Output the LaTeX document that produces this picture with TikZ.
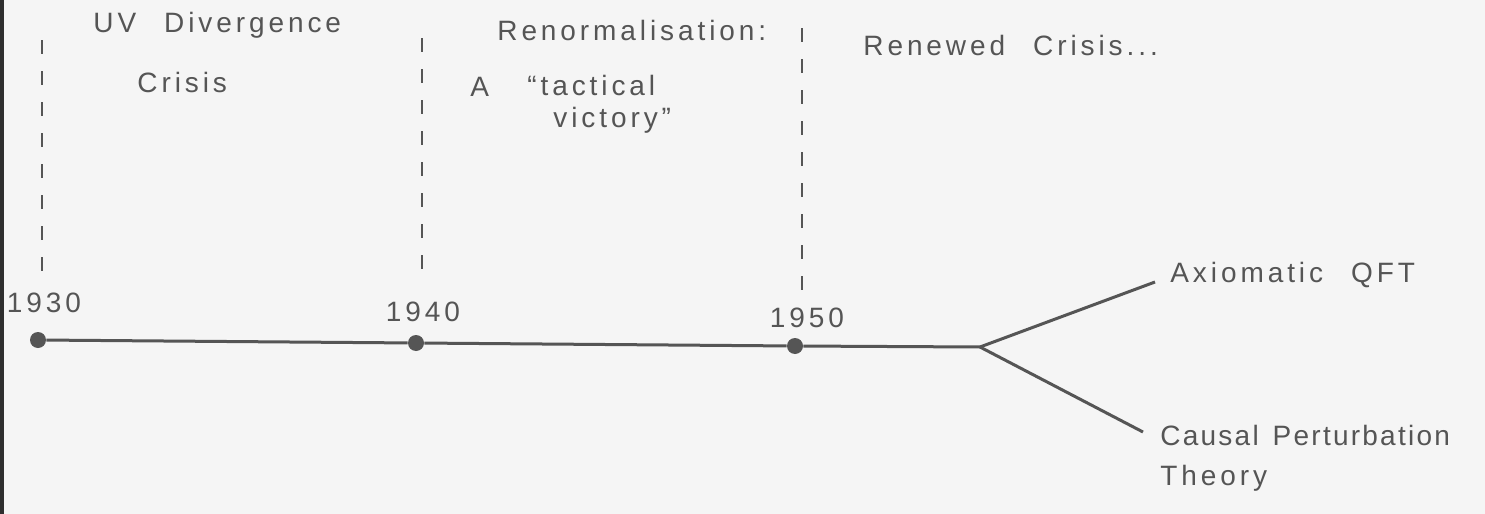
\documentclass[tikz,border=0pt]{standalone}
\usepackage{fontspec}
\setmainfont{Liberation Sans}[LetterSpace=14]
\usepackage{tikz}
\definecolor{InkGray}{HTML}{555555}
\definecolor{PaperGray}{HTML}{F5F5F5}
\definecolor{FrameDark}{HTML}{2E2E2E}

\tikzset{
  yeardot/.style={circle, fill=InkGray, inner sep=0pt, minimum size=8pt},
  yearlabel/.style={anchor=south, font=\fontsize{14}{16}\selectfont, text=InkGray},
  era/.style={anchor=west, font=\fontsize{14}{16}\selectfont, text=InkGray, inner sep=0pt},
  divider/.style={InkGray, line width=1.1pt, dash pattern=on 7pt off 8.5pt}
}

\begin{document}
\begin{tikzpicture}[x=0.5pt,y=-0.5pt]
  \useasboundingbox (0,0) rectangle (1485,514);
  \fill[PaperGray] (0,0) rectangle (1485,514);
  \fill[FrameDark] (0,0) rectangle (4,514);
  % the years
  \node[yeardot] (y1930) at (38,340) {};
  \node[yeardot] (y1940) at (416,343) {};
  \node[yeardot] (y1950) at (795,346) {};
  \coordinate (fork) at (980,347);
  \node[yearlabel] (l1930) at (44,320) {1930};
  \node[yearlabel] (l1940) at (423,329) {1940};
  \node[yearlabel] (l1950) at (807,335) {1950};
  % time line and its two branches
  \draw[InkGray, line width=1.5pt] (y1930) -- (y1940) -- (y1950) -- (fork);
  \node[era] (axiom) at (1170,275) {Axiomatic\quad QFT};
  \node[era] (causal) at (1160,435) {\addfontfeature{LetterSpace=8}Causal\enspace Perturbation};
  \node[era] (theory) at (1160,478) {Theory};
  \draw[InkGray, line width=1.5pt] (fork) -- (1155,282);
  \draw[InkGray, line width=1.5pt] (fork) -- (1143,432);
  % dividers between the eras
  \draw[divider] (42,40) -- (42,282);
  \draw[divider] (422,38) -- (422,282);
  \draw[divider] (802,28) -- (802,296);
  % the eras
  \node[era] (uv) at (93,25) {UV\quad Divergence};
  \node[era] (crisis) at (137,82) {Crisis};
  \node[era] (renorm) at (497,30) {Renormalisation:};
  \node[era] (a) at (470,87) {A};
  \node[era] (tactical) at (527,85) {“tactical};
  \node[era] (victory) at (553,120) {victory”};
  \node[era] (renewed) at (863,45) {Renewed\quad Crisis...};
\end{tikzpicture}
\end{document}
